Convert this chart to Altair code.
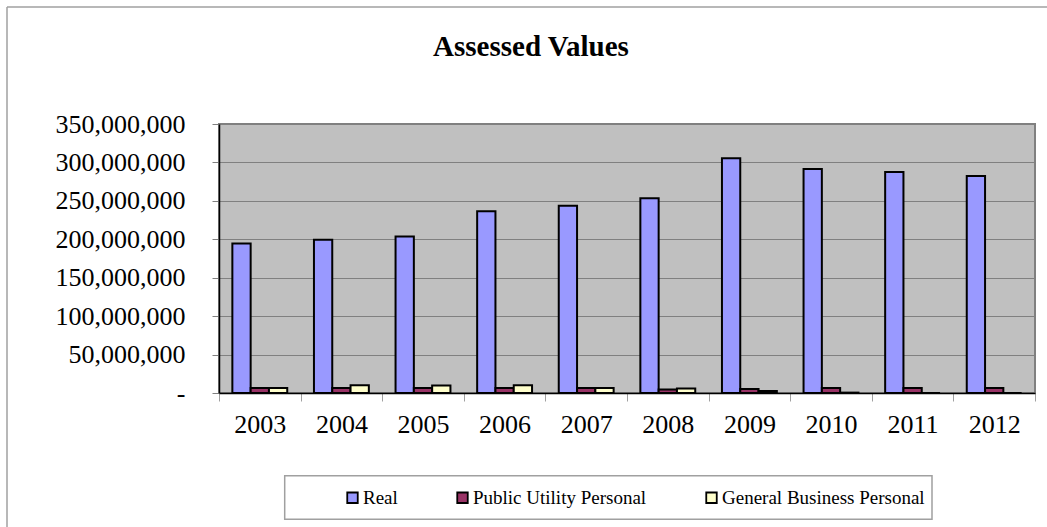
import altair as alt
import pandas as pd

years = ["2003", "2004", "2005", "2006", "2007", "2008", "2009", "2010", "2011", "2012"]
series = ["Real", "Public Utility Personal", "General Business Personal"]
colors = ["#9999FF", "#993366", "#FFFFCC"]
real = [194.5e6, 199.5e6, 203.5e6, 236.5e6, 243.5e6, 253.5e6, 305.5e6, 291.5e6, 287.5e6, 282.5e6]
public_utility = [6.5e6, 6.5e6, 6.5e6, 6.5e6, 6.5e6, 4.5e6, 5.2e6, 6.5e6, 6.5e6, 6.5e6]
general_business = [6.5e6, 10e6, 9.6e6, 10e6, 6.5e6, 5.7e6, 2.6e6, 0.5e6, 0, 0]
y_ticks = [0, 50e6, 100e6, 150e6, 200e6, 250e6, 300e6, 350e6]
title_text = "Assessed Values"

rows = []
for name, vals in zip(series, [real, public_utility, general_business]):
    for yr, v in zip(years, vals):
        rows.append({"Year": yr, "Series": name, "Value": v})
df = pd.DataFrame(rows)

W, H = 816, 269
FONT = "Liberation Serif"

bars = alt.Chart(df).mark_bar(stroke="black", strokeWidth=2).encode(
    x=alt.X("Year:N", sort=years,
            scale=alt.Scale(paddingInner=0, paddingOuter=0),
            axis=alt.Axis(title=None, labelAngle=0, tickBand="extent", tickSize=8,
                          tickColor="#A0A0A0", tickWidth=1, domainColor="black",
                          domainWidth=1.5, labelFont=FONT, labelFontSize=26,
                          labelColor="black", labelPadding=10, grid=False)),
    xOffset=alt.XOffset("Series:N", sort=series,
                        scale=alt.Scale(paddingInner=0, paddingOuter=0.73)),
    y=alt.Y("Value:Q", scale=alt.Scale(domain=[0, 350e6], nice=False),
            axis=alt.Axis(title=None, values=y_ticks,
                          labelExpr="datum.value == 0 ? '-' : format(datum.value, ',')",
                          tickSize=7, tickColor="#808080", domainColor="black",
                          domainWidth=1.5, gridColor="#808080", gridWidth=1,
                          labelFont=FONT, labelFontSize=26, labelColor="black",
                          labelPadding=27)),
    color=alt.Color("Series:N", sort=series,
                    scale=alt.Scale(domain=series, range=colors),
                    legend=alt.Legend(title=None, orient="none", direction="horizontal",
                                      legendX=124, legendY=364, padding=0,
                                      symbolType="square", symbolSize=110,
                                      symbolStrokeColor="black", symbolStrokeWidth=1.8,
                                      symbolOpacity=1, labelFont=FONT, labelFontSize=19,
                                      labelColor="black", labelOffset=1, labelLimit=0,
                                      columnPadding=55)),
)

one = alt.Data(values=[{"k": 1}])
legend_box = alt.Chart(one).mark_rect(fill="white", stroke="#A0A0A0", strokeWidth=1.5).encode(
    x=alt.value(65.7), x2=alt.value(713), y=alt.value(351.7), y2=alt.value(395.3))
frame_top = alt.Chart(one).mark_rule(color="#A0A0A0", strokeWidth=1.5).encode(
    x=alt.value(-212), x2=alt.value(900), y=alt.value(-117))
frame_left = alt.Chart(one).mark_rule(color="#A0A0A0", strokeWidth=1.5).encode(
    x=alt.value(-212), y=alt.value(-117), y2=alt.value(500))
title = alt.Chart(alt.Data(values=[{"t": title_text}])).mark_text(
    font=FONT, fontSize=29, fontWeight="bold", color="black",
    align="center", baseline="alphabetic").encode(
    x=alt.value(312), y=alt.value(-68), text="t:N")

chart = alt.layer(frame_top, frame_left, legend_box, title, bars).properties(
    width=W, height=H,
    autosize=alt.AutoSizeParams(type="none"),
    padding={"left": 219, "top": 124, "right": 12, "bottom": 134},
).configure(background="white"
).configure_view(fill="#C0C0C0", stroke="#808080", strokeWidth=2)

chart.save("out.html", embed_options={"renderer": "svg", "actions": False})
